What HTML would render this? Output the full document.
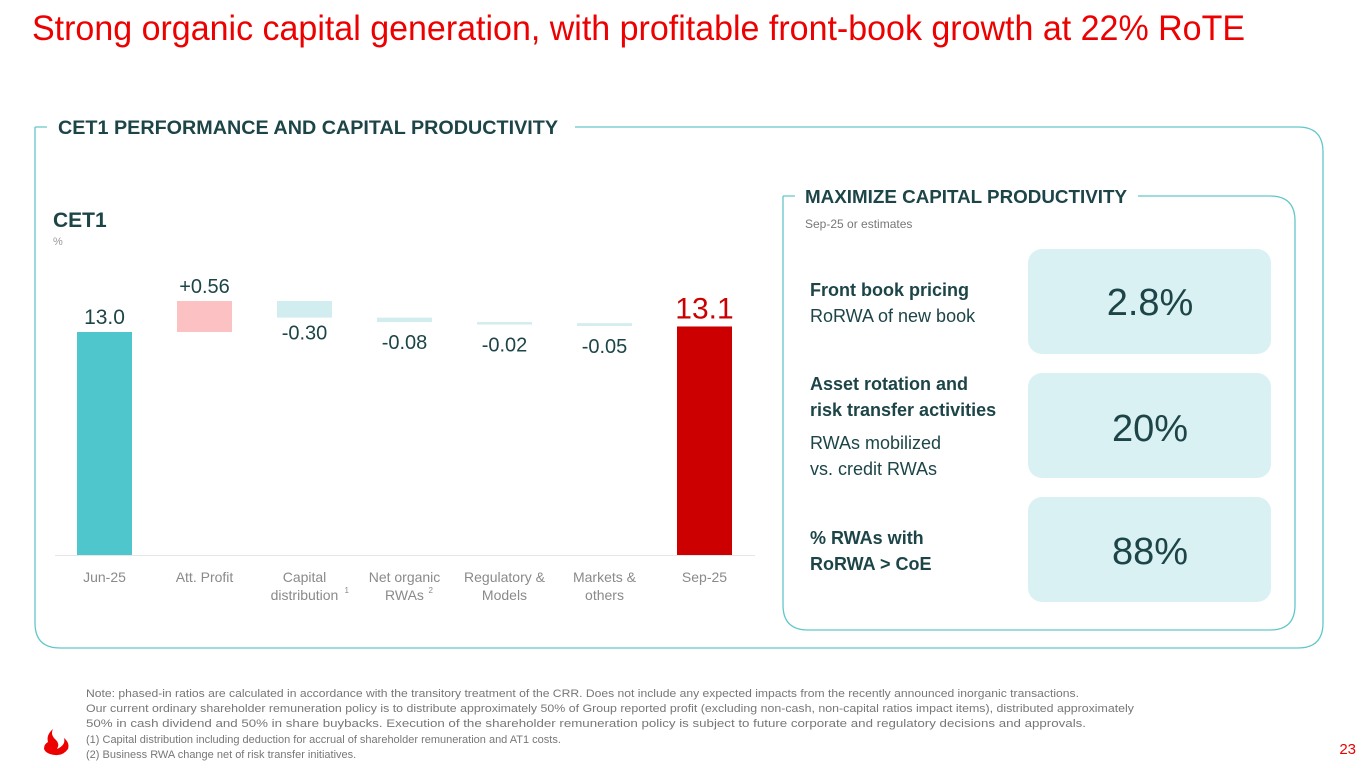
<!DOCTYPE html>
<html><head><meta charset="utf-8"><style>
body{margin:0;width:1365px;height:768px;overflow:hidden;background:#fff;font-family:"Liberation Sans",sans-serif}
svg{display:block}
</style></head><body>
<svg id="s" width="1365" height="768" viewBox="0 0 1365 768" font-family="Liberation Sans, sans-serif">
<text x="32" y="40" font-size="35" fill="#ec0000" textLength="1213" lengthAdjust="spacingAndGlyphs">Strong organic capital generation, with profitable front-book growth at 22% RoTE</text>
<path d="M35 127 H47 M575 127 H1298 Q1323 127 1323 152 V623 Q1323 648 1298 648 H60 Q35 648 35 623 V127" fill="none" stroke="#63c7c9" stroke-width="1.3"/>
<text x="58" y="134" font-size="19" font-weight="bold" fill="#1d4548" textLength="500" lengthAdjust="spacingAndGlyphs">CET1 PERFORMANCE AND CAPITAL PRODUCTIVITY</text>
<text x="53" y="227" font-size="21" font-weight="bold" fill="#1d4548">CET1</text>
<text x="53" y="245" font-size="11" fill="#999">%</text>
<line x1="55" y1="555.5" x2="755" y2="555.5" stroke="#e6e6e6"/>
<g id="bars"></g>
<g id="xlabels" font-size="14" fill="#8a8a8a" text-anchor="middle"></g>
<path d="M783 216 V605 Q783 630 808 630 H1270 Q1295 630 1295 605 V221 Q1295 196 1270 196 H1138 M783 196 H795" fill="none" stroke="#63c7c9" stroke-width="1.3"/>
<path d="M783 196 V216" stroke="#63c7c9" stroke-width="1.3"/>
<text x="805" y="203" font-size="18" font-weight="bold" fill="#1d4548" textLength="322" lengthAdjust="spacingAndGlyphs">MAXIMIZE CAPITAL PRODUCTIVITY</text>
<text x="805" y="228" font-size="12" fill="#777">Sep-25 or estimates</text>
<g font-size="18" fill="#1d4548">
<text x="810" y="296" font-weight="bold">Front book pricing</text>
<text x="810" y="322">RoRWA of new book</text>
<text x="810" y="390" font-weight="bold">Asset rotation and</text>
<text x="810" y="416" font-weight="bold">risk transfer activities</text>
<text x="810" y="449">RWAs mobilized</text>
<text x="810" y="475">vs. credit RWAs</text>
<text x="810" y="544" font-weight="bold">% RWAs with</text>
<text x="810" y="570" font-weight="bold">RoRWA &gt; CoE</text>
</g>
<g font-size="38" fill="#1d4548" text-anchor="middle">
<rect x="1028" y="249" width="243" height="105" rx="14" fill="#d9f1f3"/>
<text x="1150" y="315">2.8%</text>
<rect x="1028" y="373" width="243" height="105" rx="14" fill="#d9f1f3"/>
<text x="1150" y="441">20%</text>
<rect x="1028" y="497" width="243" height="105" rx="14" fill="#d9f1f3"/>
<text x="1150" y="564">88%</text>
</g>
<g font-size="11" fill="#777">
<text x="86" y="697" textLength="993" lengthAdjust="spacingAndGlyphs">Note: phased-in ratios are calculated in accordance with the transitory treatment of the CRR. Does not include any expected impacts from the recently announced inorganic transactions.</text>
<text x="86" y="712" textLength="1048" lengthAdjust="spacingAndGlyphs">Our current ordinary shareholder remuneration policy is to distribute approximately 50% of Group reported profit (excluding non-cash, non-capital ratios impact items), distributed approximately</text>
<text x="86" y="727" textLength="1000" lengthAdjust="spacingAndGlyphs">50% in cash dividend and 50% in share buybacks. Execution of the shareholder remuneration policy is subject to future corporate and regulatory decisions and approvals.</text>
<text x="86" y="743">(1)   Capital distribution including deduction for accrual of shareholder remuneration and AT1 costs.</text>
<text x="86" y="758">(2)   Business RWA change net of risk transfer initiatives.</text>
</g>
<g fill="#ec0000">
<path d="M48 742 Q46 735 53 729 Q50 735 56 740 Q60 744 57 749 Q66 745 64 738 Q70 743 68 749 Q63 756 55 755 Q46 754 44 749 Q44 744 48 742Z"/>
</g>
<text x="1356" y="754" font-size="15" fill="#ec0000" text-anchor="end">23</text>
</svg>
<script>
const categories=["Jun-25","Att. Profit","Capital|distribution","Net organic|RWAs","Regulatory &|Models","Markets &|others","Sep-25"];
const footnotes=["","","1","2","","",""];
const values=[13.0,0.56,-0.30,-0.08,-0.02,-0.05,13.1];
const valueLabels=["13.0","+0.56","-0.30","-0.08","-0.02","-0.05","13.1"];
const kinds=["total","delta","delta","delta","delta","delta","total"];
const NS="http://www.w3.org/2000/svg";
const base=8.975, scale=55.4, y0=555;
function yS(v){return y0-(v-base)*scale;}
function xS(i){return 77+i*100;}
const bw=55;
const g=document.getElementById('bars'), xl=document.getElementById('xlabels');
let run=0;
values.forEach((v,i)=>{
  let top,bot,fill;
  if(kinds[i]==="total"){top=yS(v);bot=y0;fill=i===0?"#4ec6cc":"#cc0000";run=v;}
  else{const a=run,b=run+v;top=yS(Math.max(a,b));bot=yS(Math.min(a,b));fill=v>0?"#fcc2c3":"#d2edef";run=b;}
  const r=document.createElementNS(NS,'rect');
  r.setAttribute('x',xS(i));r.setAttribute('y',top);r.setAttribute('width',bw);r.setAttribute('height',Math.max(bot-top,2.5));r.setAttribute('fill',fill);
  
  
  g.appendChild(r);
  const t=document.createElementNS(NS,'text');
  t.setAttribute('x',xS(i)+bw/2);t.setAttribute('text-anchor','middle');
  let ty, fs=20, col="#1d4548";
  if(kinds[i]==="total"){ty=top-8; if(i===6){fs=30;col="#cc0000";}}
  else if(v>0){ty=top-8;}
  else{ty=Math.max(bot,top+2.5)+22+(i>2?5:0);}
  if(i===0) fs=21;
  t.setAttribute('y',ty);t.setAttribute('font-size',fs);t.setAttribute('fill',col);
  t.textContent=valueLabels[i];
  
  
  g.appendChild(t);
  const lines=categories[i].split('|');
  lines.forEach((ln,j)=>{
    const tx=document.createElementNS(NS,'text');
    tx.setAttribute('x',xS(i)+bw/2);tx.setAttribute('y',582+j*18);
    tx.textContent=ln;
    
    
    xl.appendChild(tx);
  });
  if(footnotes[i]){
    const f=document.createElementNS(NS,'text');
    f.setAttribute('x',xS(i)+bw/2+(i===2?40:24));f.setAttribute('y',593);f.setAttribute('font-size','8');f.setAttribute('text-anchor','start');
    f.textContent=footnotes[i];
    
    
    xl.appendChild(f);
  }
});
</script>
</body></html>
